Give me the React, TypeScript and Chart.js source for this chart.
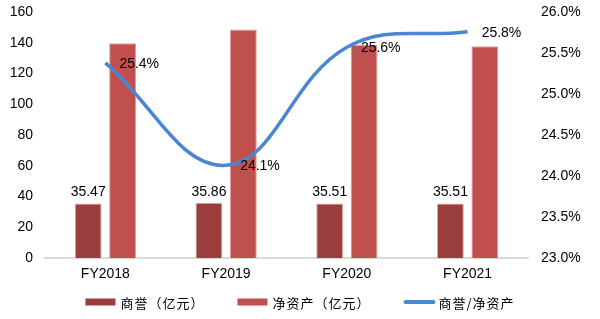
import React, { useEffect, useRef } from "react";
import { Chart, registerables } from "chart.js";

Chart.register(...registerables);

const categories = ["FY2018", "FY2019", "FY2020", "FY2021"];
const goodwill = [35.47, 35.86, 35.51, 35.51];
const netAssets = [139.6, 148.6, 138.7, 137.8];
const ratio = [25.38, 24.13, 25.57, 25.76];
const ratioLabels = ["25.4%", "24.1%", "25.6%", "25.8%"];
const seriesNames = ["商誉（亿元）", "净资产（亿元）", "商誉/净资产"];

const FONT = "'Liberation Sans', Arial, sans-serif";
const COLORS = ["#9a3d3d", "#c0504d", "#4a86d4"];

const labelPlugin = {
  id: "labels",
  afterDatasetsDraw(chart: any) {
    const ctx = chart.ctx;
    ctx.save();
    ctx.fillStyle = "#000";
    ctx.font = `14px ${FONT}`;
    const barMeta = chart.getDatasetMeta(0);
    barMeta.data.forEach((el: any, i: number) => {
      ctx.textAlign = "center";
      ctx.textBaseline = "bottom";
      ctx.fillText(goodwill[i].toFixed(2), el.x, el.y - 4);
    });
    const lineMeta = chart.getDatasetMeta(2);
    lineMeta.data.forEach((el: any, i: number) => {
      ctx.textAlign = "left";
      ctx.textBaseline = "middle";
      ctx.fillText(ratioLabels[i], el.x + 14, el.y + 1);
    });
    ctx.restore();
  },
};

const legendPlugin = {
  id: "customLegend",
  afterDraw(chart: any) {
    const ctx = chart.ctx;
    ctx.save();
    ctx.font = "13px 'Noto Sans CJK SC', sans-serif";
    (ctx as any).letterSpacing = "1px";
    const boxW = 30;
    const gapBoxText = 5;
    const gapItems = 33;
    const widths = seriesNames.map((n) => ctx.measureText(n).width);
    let total = 0;
    widths.forEach((w, i) => {
      total += boxW + gapBoxText + w + (i < widths.length - 1 ? gapItems : 0);
    });
    let x = chart.width / 2 - total / 2;
    const y = 302;
    seriesNames.forEach((name, i) => {
      if (i < 2) {
        ctx.fillStyle = COLORS[i];
        ctx.fillRect(x, y - 3.5, boxW, 7);
      } else {
        ctx.strokeStyle = COLORS[i];
        ctx.lineWidth = 4;
        ctx.lineCap = "round";
        ctx.beginPath();
        ctx.moveTo(x + 2, y);
        ctx.lineTo(x + boxW, y);
        ctx.stroke();
      }
      x += boxW + gapBoxText;
      ctx.fillStyle = "#000";
      ctx.textAlign = "left";
      ctx.textBaseline = "middle";
      ctx.fillText(name, x, y + 1);
      x += widths[i] + gapItems;
    });
    ctx.restore();
  },
};

export default function App() {
  const ref = useRef<HTMLCanvasElement>(null);
  useEffect(() => {
    document.body.style.margin = "0";
    const chart = new Chart(ref.current!, {
      type: "bar",
      data: {
        labels: categories,
        datasets: [
          {
            type: "bar",
            label: seriesNames[0],
            data: goodwill,
            backgroundColor: COLORS[0],
            borderColor: "#e2a4a4",
            borderWidth: 1,
            yAxisID: "y",
            order: 1,
            categoryPercentage: 0.57,
            barPercentage: 0.78,
          },
          {
            type: "bar",
            label: seriesNames[1],
            data: netAssets,
            backgroundColor: COLORS[1],
            borderColor: "#e69a98",
            borderWidth: 1,
            yAxisID: "y",
            order: 1,
            categoryPercentage: 0.57,
            barPercentage: 0.78,
          },
          {
            type: "line",
            label: seriesNames[2],
            data: ratio,
            borderColor: COLORS[2],
            backgroundColor: COLORS[2],
            borderWidth: 3.5,
            pointRadius: 0,
            tension: 0.4,
            yAxisID: "y1",
            order: 0,
          } as any,
        ],
      },
      options: {
        responsive: false,
        animation: false,
        layout: { padding: { top: 12, left: 0, right: 0, bottom: 35 } },
        plugins: {
          tooltip: { enabled: false },
          legend: { display: false },
        },
        scales: {
          x: {
            grid: { display: false, drawTicks: false },
            border: { display: true, color: "#d9d9d9", width: 2 },
            ticks: { color: "#000", font: { family: FONT, size: 14 }, padding: 8 },
            afterFit: (s: any) => { s.height = 26; },
          },
          y: {
            position: "left",
            min: 0,
            max: 160,
            grid: { display: false, drawTicks: false },
            border: { display: false },
            ticks: { stepSize: 20, color: "#000", font: { family: FONT, size: 14 }, padding: 12 },
            afterFit: (s: any) => { s.width = 45; s.paddingTop = 0; s.paddingBottom = 0; },
          },
          y1: {
            position: "right",
            min: 23,
            max: 26,
            grid: { display: false, drawTicks: false },
            border: { display: false },
            ticks: {
              stepSize: 0.5,
              color: "#000",
              font: { family: FONT, size: 14 },
              padding: 13,
              callback: (v: any) => Number(v).toFixed(1) + "%",
            },
            afterFit: (s: any) => { s.width = 72; s.paddingTop = 0; s.paddingBottom = 0; },
          },
        },
      },
      plugins: [labelPlugin, legendPlugin],
    });
    return () => chart.destroy();
  }, []);
  return (
    <div style={{ width: 600, height: 319 }}>
      <canvas ref={ref} width={600} height={319} />
    </div>
  );
}
